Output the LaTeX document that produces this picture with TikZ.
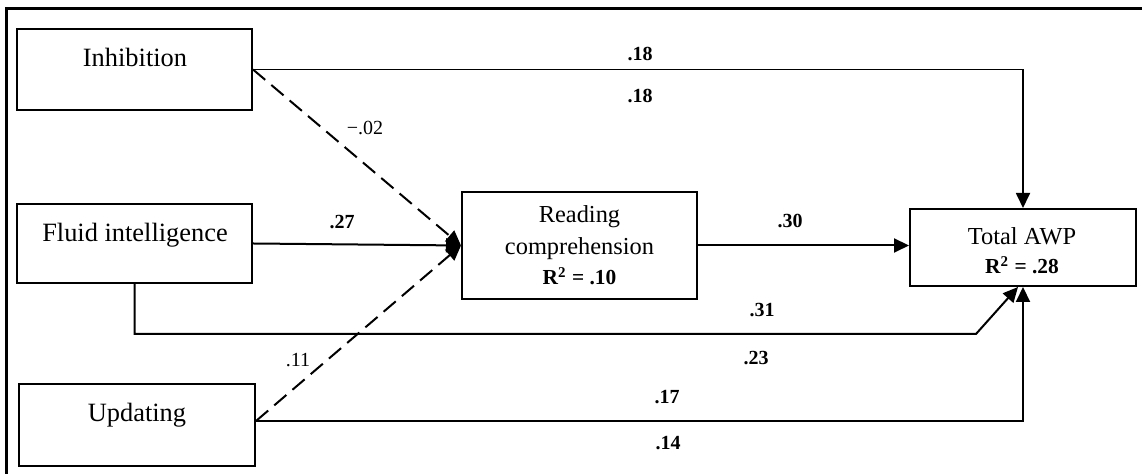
\documentclass[tikz,border=0pt]{standalone}
\usepackage{fontspec}
\setmainfont{Liberation Serif}
\usetikzlibrary{arrows.meta}
\tikzset{
  box/.style={draw, line width=1pt, inner sep=0pt},
  boxtext/.style={anchor=base, inner sep=0pt, font=\fontsize{13.2}{15}\selectfont},
  midtext/.style={anchor=base, inner sep=0pt, font=\fontsize{12.2}{14}\selectfont},
  rsq/.style={anchor=base, inner sep=0pt, font=\fontsize{10.7}{12}\selectfont\bfseries},
  coef/.style={inner sep=0pt, font=\fontsize{10}{12}\selectfont\bfseries},
  coefplain/.style={inner sep=0pt, font=\fontsize{10}{12}\selectfont},
  tip/.style={-{Triangle[length=7.5pt,width=7pt]}},
  conn/.style={line width=1pt, tip},
  dashconn/.style={line width=1pt, dash pattern=on 8pt off 4pt, tip},
}
\begin{document}
\begin{tikzpicture}[x=0.5pt, y=-0.5pt]
\useasboundingbox[fill=white] (0,0) rectangle (1142,474);

% outer frame
\coordinate (frTR) at (1142,9);
\coordinate (frTL) at (6,9);
\coordinate (frBL) at (6,474);
\draw[line width=1.5pt] (frTR) -- (frTL) -- (frBL);

% predictor boxes
\node[box, minimum width=117.5pt, minimum height=40.5pt] (inh) at (134.5,69.5) {};
\node[boxtext] (inhT) at (135,67) {Inhibition};

\node[box, minimum width=117.5pt, minimum height=39.5pt] (fluid) at (134.5,243.5) {};
\node[boxtext] (fluidT) at (135,241.5) {Fluid intelligence};

\node[box, minimum width=118pt, minimum height=41pt] (upd) at (137,425) {};
\node[boxtext] (updT) at (137,422) {Updating};

% mediator
\node[box, minimum width=117.5pt, minimum height=53.5pt] (read) at (579.5,245.5) {};
\node[midtext] (readT1) at (579.5,223) {Reading};
\node[midtext] (readT2) at (579.5,255) {comprehension};
\node[rsq] (readT3) at (579.5,285) {R\textsuperscript{2} = .10};

% outcome
\node[box, minimum width=113pt, minimum height=38.5pt] (tot) at (1023,247.5) {};
\node[midtext] (totT1) at (1022,245) {Total AWP};
\node[rsq] (totT2) at (1022,274) {R\textsuperscript{2} = .28};

% paths
\draw[conn, line width=0.9pt] (inh.east) -| (tot.north);
\draw[dashconn] (inh.east) -- (read.west);
\draw[conn] (fluid.east) -- (read.west);
\draw[dashconn] ([yshift=2pt]upd.east) -- (read.west);
\draw[conn] (read.east) -- (read.east -| tot.west);

\coordinate (fbend) at (976,334);
\draw[conn] (fluid.south) |- (fbend) -- ([xshift=-2.5pt]tot.south);
\draw[conn] ([yshift=2pt]upd.east) -| (tot.south);

% coefficients
\node[coef] (c18a) at (640,54) {.18};
\node[coef] (c18b) at (640,96) {.18};
\node[coefplain] (c02) at (365,128) {−.02};
\node[coef] (c27) at (342,222) {.27};
\node[coef] (c30) at (790,221) {.30};
\node[coef] (c31) at (762,310) {.31};
\node[coef] (c23) at (756,358) {.23};
\node[coefplain] (c11) at (298,360) {.11};
\node[coef] (c17) at (667,397) {.17};
\node[coef] (c14) at (668,443) {.14};
\end{tikzpicture}
\end{document}
